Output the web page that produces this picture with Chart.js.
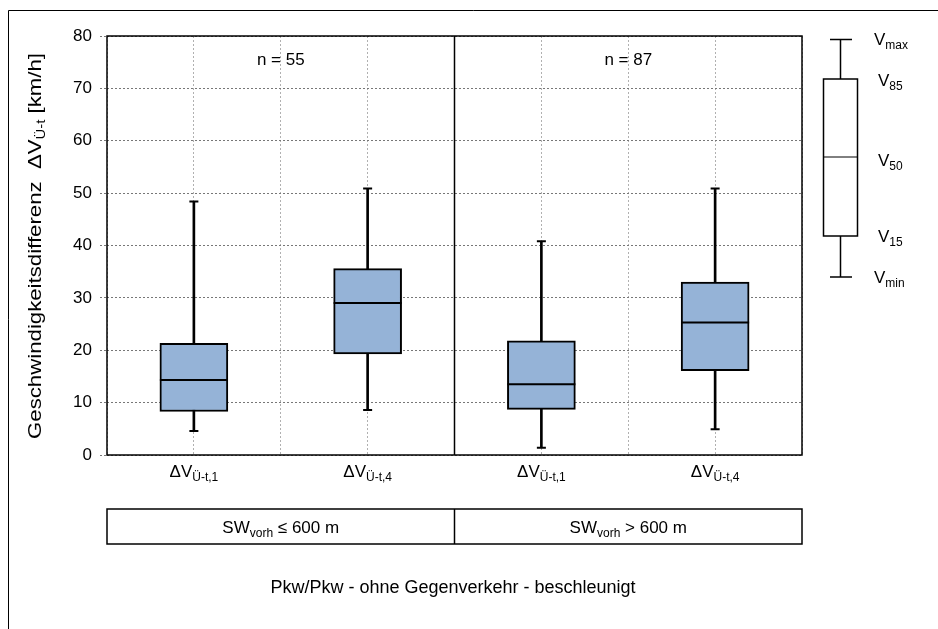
<!DOCTYPE html>
<html lang="de">
<head>
  <meta charset="UTF-8">
  <title>Geschwindigkeitsdifferenz Pkw/Pkw</title>
  <script src="https://cdn.jsdelivr.net/npm/chart.js"></script>
  <style>
    body {
      margin: 0;
      background: #fff;
    }
    #wrap {
      width: 938px;
      height: 629px;
    }
  </style>
</head>
<body>
  <div id="wrap"><canvas id="boxChart" width="938" height="629"></canvas></div>

  <script>
    // subscripts of the ΔV labels under each box
    const categories = ['Ü-t,1', 'Ü-t,4', 'Ü-t,1', 'Ü-t,4'];
    const vMin = [4.6, 8.6, 1.4, 4.9];
    const v15 = [8.3, 19.3, 8.7, 16.1];
    const v50 = [14.3, 29.0, 13.5, 25.3];
    const v85 = [21.3, 35.6, 21.8, 33.0];
    const vMax = [48.4, 50.9, 40.8, 50.9];

    // two groups of two boxes each
    const groupSigns = ['≤', '>'];
    const groupN = [55, 87];

    const yMin = 0, yMax = 80, yStep = 10;

    const FONT = '"Liberation Sans", Arial, sans-serif';

    // draws text made of parts, some of them subscript
    // (stretch: optional length the whole text is stretched to)
    function drawParts(ctx, parts, x, y, size, align, stretch) {
      const subSize = Math.round(size * 0.68);
      let total = 0;
      parts.forEach(p => {
        ctx.font = (p.sub ? subSize : size) + 'px ' + FONT;
        p.w = ctx.measureText(p.t).width;
        total += p.w;
      });
      ctx.save();
      ctx.translate(x, y);
      if (stretch) {
        ctx.scale(stretch / total, 1);
      }
      let cx = align === 'center' ? -total / 2 : (align === 'right' ? -total : 0);
      ctx.textAlign = 'left';
      ctx.textBaseline = 'alphabetic';
      parts.forEach(p => {
        ctx.font = (p.sub ? subSize : size) + 'px ' + FONT;
        ctx.fillText(p.t, cx, p.sub ? size * 0.22 : 0);
        cx += p.w;
      });
      ctx.restore();
    }

    const extras = {
      id: 'extras',
      afterDraw(chart) {
        const ctx = chart.ctx;
        const area = chart.chartArea;
        const xs = chart.scales.x;
        ctx.save();
        ctx.fillStyle = '#000';
        ctx.strokeStyle = '#000';

        // outer frame (only top and left inside the picture)
        ctx.lineWidth = 1;
        ctx.beginPath();
        ctx.moveTo(8.5, 629);
        ctx.lineTo(8.5, 10.5);
        ctx.lineTo(938, 10.5);
        ctx.stroke();

        // plot frame
        ctx.lineWidth = 1.5;
        ctx.strokeRect(area.left, area.top, area.right - area.left, area.bottom - area.top);

        // divider between the two groups
        const mid = (area.left + area.right) / 2;
        ctx.beginPath();
        ctx.moveTo(mid, area.top);
        ctx.lineTo(mid, area.bottom);
        ctx.stroke();

        // y title
        ctx.save();
        ctx.translate(41, 246);
        ctx.rotate(-Math.PI / 2);
        drawParts(ctx, [
          { t: 'Geschwindigkeitsdifferenz  ΔV' },
          { t: 'Ü-t', sub: true },
          { t: ' [km/h]' }
        ], 0, 0, 18, 'center', 386);
        ctx.restore();

        // category labels
        categories.forEach((c, i) => {
          const px = xs.getPixelForValue(i);
          drawParts(ctx, [{ t: 'ΔV' }, { t: c, sub: true }], px, 477, 17, 'center');
        });

        // n labels and group boxes
        const boxTop = 509, boxBottom = 544;
        ctx.lineWidth = 1.5;
        ctx.strokeRect(area.left, boxTop, area.right - area.left, boxBottom - boxTop);
        ctx.beginPath();
        ctx.moveTo(mid, boxTop);
        ctx.lineTo(mid, boxBottom);
        ctx.stroke();
        groupN.forEach((n, g) => {
          const cx = (xs.getPixelForValue(g * 2) + xs.getPixelForValue(g * 2 + 1)) / 2;
          ctx.font = '17px ' + FONT;
          ctx.textAlign = 'center';
          ctx.textBaseline = 'alphabetic';
          ctx.fillText('n = ' + n, cx, 65);
          drawParts(ctx, [
            { t: 'SW' },
            { t: 'vorh', sub: true },
            { t: ' ' + groupSigns[g] + ' 600 m' }
          ], cx, 533, 17, 'center');
        });

        // caption
        ctx.font = '18px ' + FONT;
        ctx.textAlign = 'center';
        ctx.fillText('Pkw/Pkw - ohne Gegenverkehr - beschleunigt', 453, 593);

        // key box on the right
        const kx = 840.5;
        ctx.lineWidth = 1.5;
        ctx.beginPath();
        ctx.moveTo(kx, 39.5); ctx.lineTo(kx, 79);
        ctx.moveTo(kx, 236); ctx.lineTo(kx, 277);
        ctx.moveTo(830, 39.5); ctx.lineTo(852, 39.5);
        ctx.moveTo(830, 277); ctx.lineTo(852, 277);
        ctx.stroke();
        ctx.strokeRect(823.5, 79, 34, 157);
        ctx.lineWidth = 1;
        ctx.beginPath();
        ctx.moveTo(823.5, 157); ctx.lineTo(857.5, 157);
        ctx.stroke();
        drawParts(ctx, [{ t: 'V' }, { t: 'max', sub: true }], 874, 45, 17, 'left');
        drawParts(ctx, [{ t: 'V' }, { t: '85', sub: true }], 878, 86, 17, 'left');
        drawParts(ctx, [{ t: 'V' }, { t: '50', sub: true }], 878, 166, 17, 'left');
        drawParts(ctx, [{ t: 'V' }, { t: '15', sub: true }], 878, 242, 17, 'left');
        drawParts(ctx, [{ t: 'V' }, { t: 'min', sub: true }], 874, 283, 17, 'left');

        ctx.restore();
      }
    };

    new Chart(document.getElementById('boxChart'), {
      type: 'bar',
      data: {
        labels: categories,
        datasets: [
          {
            label: 'Whisker',
            data: categories.map((c, i) => [vMin[i], vMax[i]]),
            backgroundColor: '#000',
            barThickness: 2,
            grouped: false,
            order: 3
          },
          {
            label: 'V15-V85',
            data: categories.map((c, i) => [v15[i], v85[i]]),
            backgroundColor: '#95B3D7',
            borderColor: '#000',
            borderWidth: 2,
            borderSkipped: false,
            barThickness: 68,
            grouped: false,
            order: 2
          },
          {
            type: 'line',
            label: 'V50',
            data: v50,
            showLine: false,
            pointStyle: 'line',
            pointRadius: 34,
            pointBorderWidth: 2,
            pointBorderColor: '#000',
            order: 1
          },
          {
            type: 'line',
            label: 'Vmax',
            data: vMax,
            showLine: false,
            pointStyle: 'line',
            pointRadius: 4.5,
            pointBorderWidth: 2,
            pointBorderColor: '#000',
            order: 1
          },
          {
            type: 'line',
            label: 'Vmin',
            data: vMin,
            showLine: false,
            pointStyle: 'line',
            pointRadius: 4.5,
            pointBorderWidth: 2,
            pointBorderColor: '#000',
            order: 1
          }
        ]
      },
      options: {
        responsive: false,
        animation: false,
        events: [],
        layout: { padding: { left: 0, top: 35, right: 136, bottom: 0 } },
        plugins: {
          legend: { display: false },
          tooltip: { enabled: false }
        },
        scales: {
          x: {
            type: 'category',
            offset: true,
            ticks: { display: false },
            grid: { color: '#b0b0b0', drawTicks: false, offset: false },
            border: { display: false, dash: [2, 2] },
            afterFit(scale) { scale.height = 174; }
          },
          x2: {
            type: 'category',
            labels: categories,
            position: 'bottom',
            offset: true,
            ticks: { display: false },
            grid: { color: '#b0b0b0', drawTicks: false, offset: true },
            border: { display: false, dash: [2, 2] },
            afterFit(scale) { scale.height = 0; }
          },
          y: {
            min: yMin,
            max: yMax,
            ticks: {
              stepSize: yStep,
              color: '#000',
              padding: 8,
              font: { family: FONT, size: 17 }
            },
            grid: {
              color: '#777',
              tickColor: '#777',
              tickLength: 7,
              tickBorderDash: [2, 2]
            },
            border: { display: false, dash: [2, 2] },
            afterFit(scale) { scale.width = 107; }
          }
        }
      },
      plugins: [extras]
    });
  </script>
</body>
</html>
